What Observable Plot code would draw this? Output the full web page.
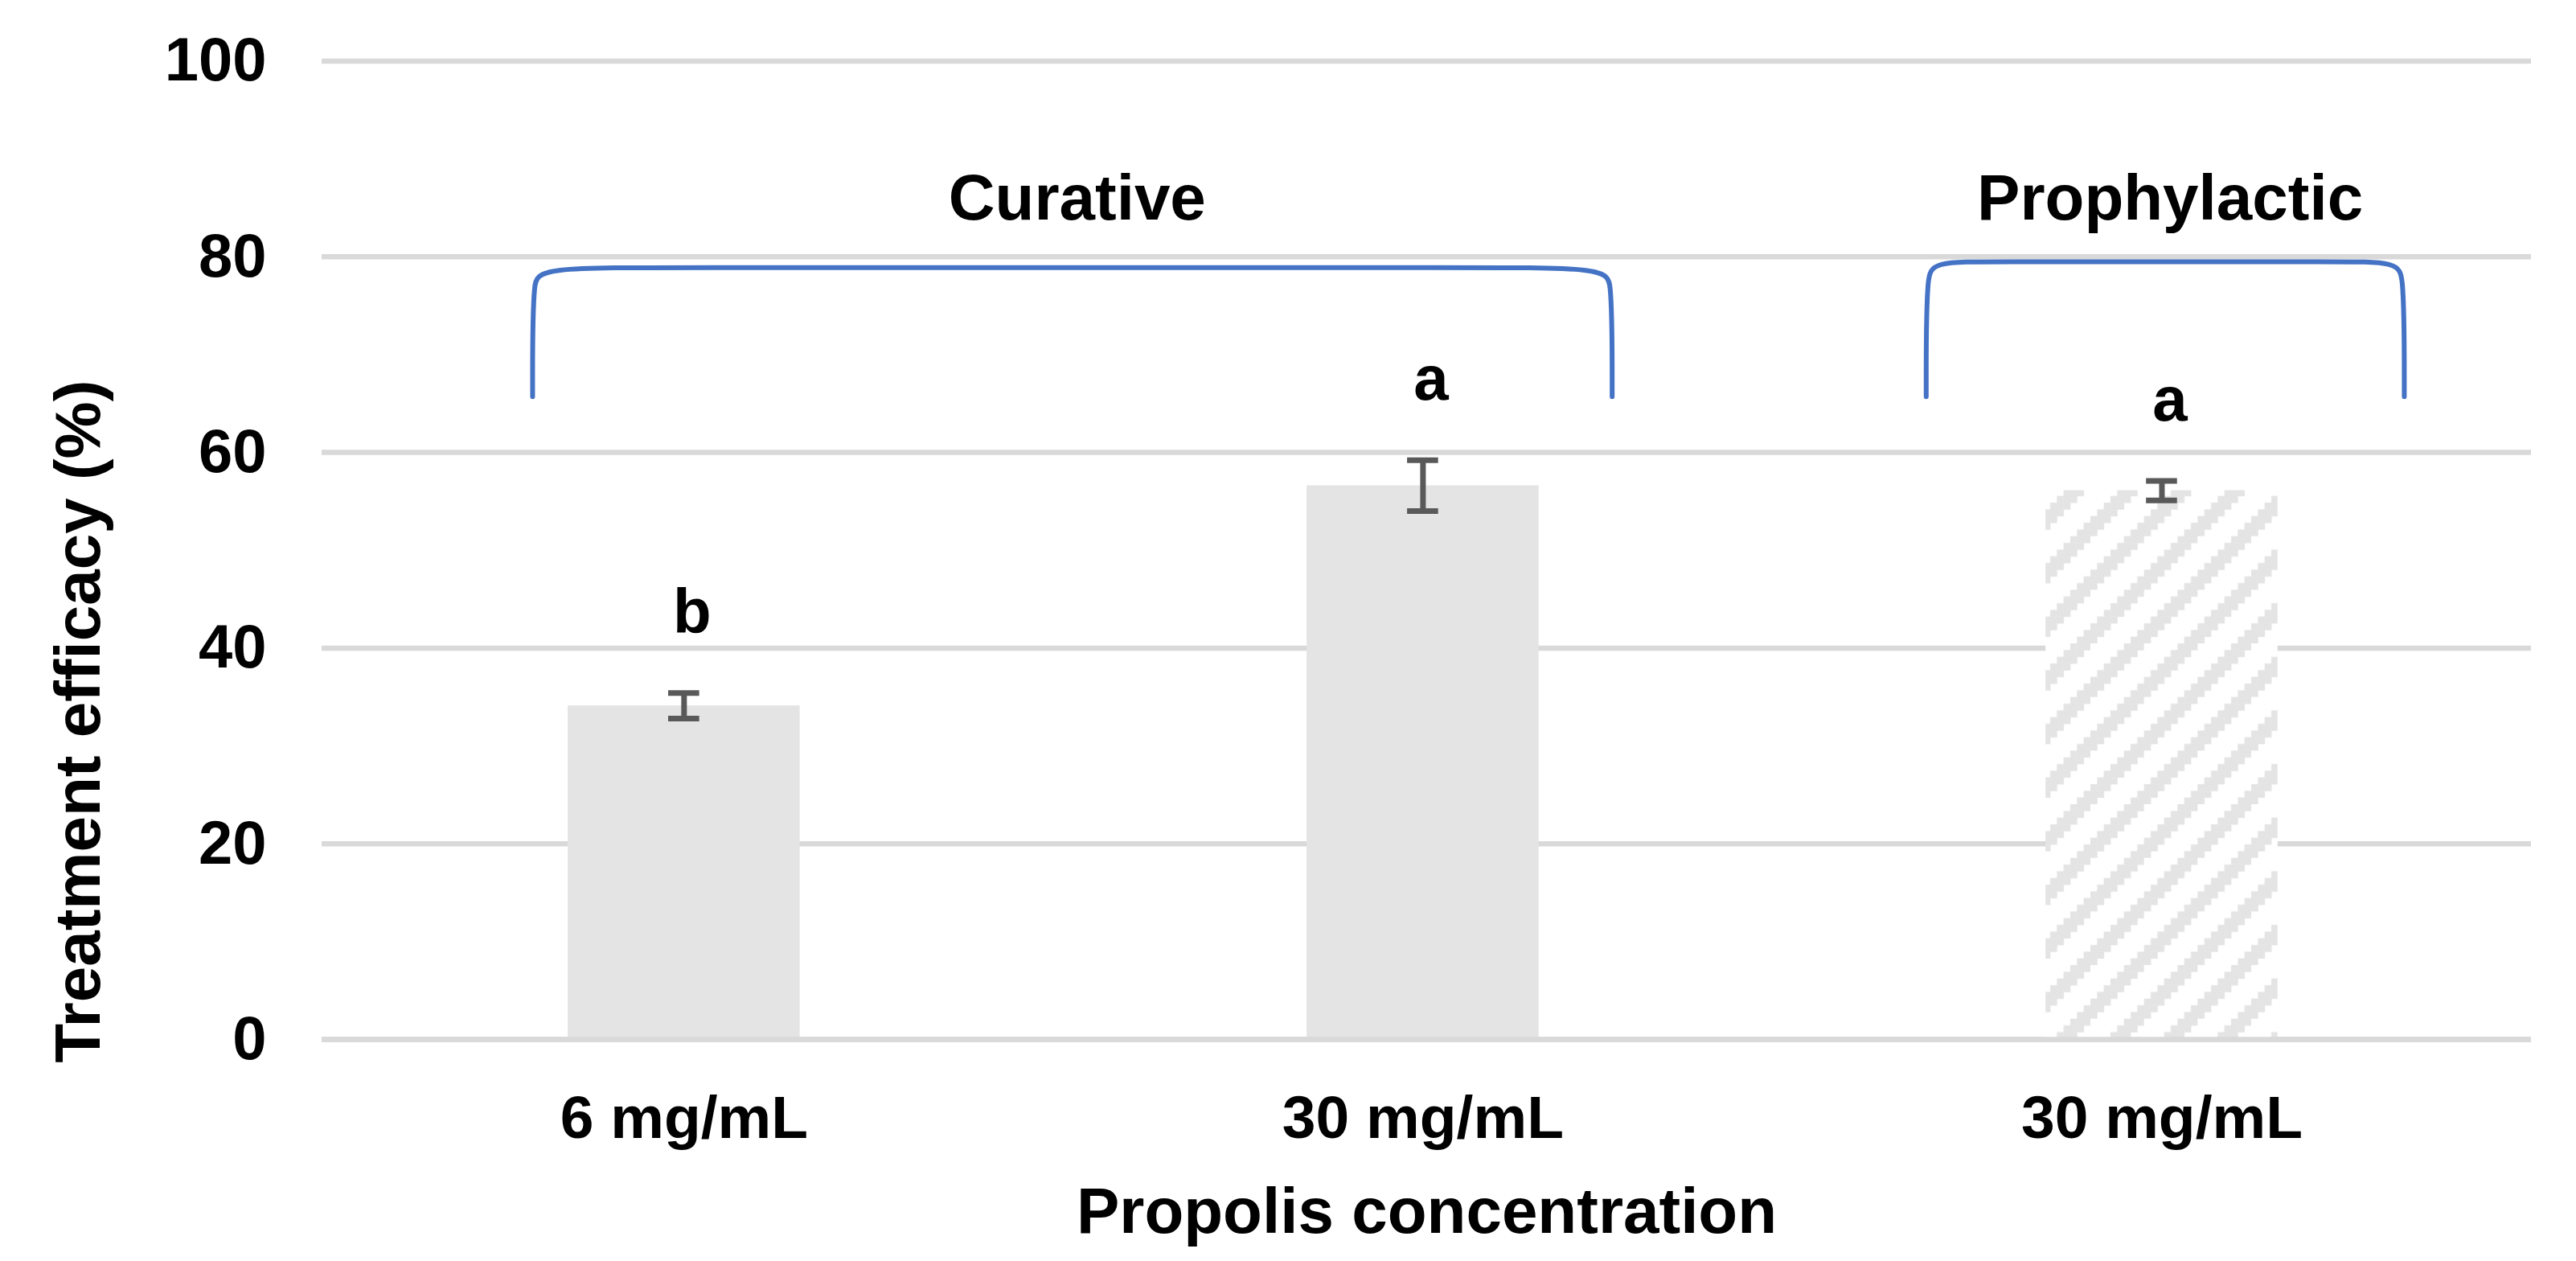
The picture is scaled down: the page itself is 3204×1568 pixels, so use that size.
<!DOCTYPE html>
<html><head><meta charset="utf-8">
<script src="https://cdn.jsdelivr.net/npm/d3@7"></script>
<script src="https://cdn.jsdelivr.net/npm/@observablehq/plot@0.6"></script>
<style>html,body{margin:0;padding:0;background:#fff;overflow:hidden}svg{display:block}</style>
</head><body><div id="chart"></div>
<script>
// ---- data ----
const categories = ["6 mg/mL", "30 mg/mL", "30 mg/mL"];
const treatments = ["Curative", "Curative", "Prophylactic"];
const efficacy = [34.1, 56.6, 56.1];
const errors = [1.3, 2.6, 1.0];
const letters = ["b", "a", "a"];
const yTicks = [0, 20, 40, 60, 80, 100];
const groups = ["Curative", "Prophylactic"];
const groupStart = [-0.205, 1.681];
const groupEnd = [1.256, 2.328];
const groupTop = [78.9, 79.5];
const groupBottom = [65.7, 65.7];
const xTitle = "Propolis concentration";
const yTitle = "Treatment efficacy (%)";

// ---- derived tables ----
const bars = categories.map((c, i) => ({i, label: c, treatment: treatments[i], value: efficacy[i], err: errors[i], letter: letters[i]}));
const HALF = 0.157, CAP = 0.021, CORNER = 0.016;
const brackets = groups.flatMap((g, k) => {
  const x0 = groupStart[k], x1 = groupEnd[k], t = groupTop[k], b = groupBottom[k];
  return [[x0, b], [x0, t], [x0 + CORNER, t], [x1 - CORNER, t], [x1, t], [x1, b]].map(([x, y]) => ({g, x, y}));
});
const labelLevel = Math.max(...groupTop);
const groupLabels = groups.map((g, k) => ({g, x: (groupStart[k] + groupEnd[k]) / 2, y: labelLevel}));

const GRID = "#D9D9D9", BAR = "#E4E4E4", ERR = "#595959", BLUE = "#4472C4";

const svg = Plot.plot({
  width: 3204,
  height: 1568,
  marginLeft: 400,
  marginRight: 56,
  marginTop: 75.5,
  marginBottom: 276,
  style: {fontFamily: "'Liberation Sans', Arial, sans-serif", fontWeight: "bold", fontSize: "76px", color: "#000", background: "#fff"},
  x: {domain: [-0.49, 2.5]},
  y: {domain: [0, 100]},
  marks: [
    Plot.gridY(yTicks, {stroke: GRID, strokeOpacity: 1, strokeWidth: 6.5}),
    Plot.rectY(bars.filter(d => d.treatment === "Curative"), {x1: d => d.i - HALF, x2: d => d.i + HALF, y1: 0, y2: "value", fill: BAR}),
    Plot.rectY(bars.filter(d => d.treatment === "Prophylactic"), {x1: d => d.i - HALF, x2: d => d.i + HALF, y1: 0, y2: "value", fill: "url(#hatch)"}),
    Plot.ruleY([0], {stroke: GRID, strokeWidth: 6.5}),
    Plot.ruleX(bars, {x: "i", y1: d => d.value - d.err, y2: d => d.value + d.err, stroke: ERR, strokeWidth: 7}),
    Plot.ruleY(bars, {y: d => d.value + d.err, x1: d => d.i - CAP, x2: d => d.i + CAP, stroke: ERR, strokeWidth: 7}),
    Plot.ruleY(bars, {y: d => d.value - d.err, x1: d => d.i - CAP, x2: d => d.i + CAP, stroke: ERR, strokeWidth: 7}),
    Plot.text(bars, {x: "i", y: d => d.value + d.err, text: "letter", dx: 10, dy: -75, lineAnchor: "bottom", fontSize: 78, fill: "#000"}),
    Plot.line(brackets, {x: "x", y: "y", z: "g", curve: "basis", stroke: BLUE, strokeWidth: 6}),
    Plot.text(groupLabels, {x: "x", y: "y", text: "g", dx: 6, dy: -52, lineAnchor: "bottom", fontSize: 80, fill: "#000"}),
    Plot.axisY({ticks: yTicks, tickSize: 0, tickPadding: 69, label: null, fontSize: 76}),
    Plot.axisX({ticks: [0, 1, 2], tickFormat: i => categories[i], tickSize: 0, tickPadding: 69, label: null, fontSize: 75}),
    Plot.text([xTitle], {text: d => d, frameAnchor: "bottom", textAnchor: "middle", dy: 240, lineAnchor: "bottom", fontSize: 80, fill: "#000"}),
    Plot.text([yTitle], {text: d => d, frameAnchor: "left", textAnchor: "middle", rotate: -90, dx: -277, dy: 213, lineAnchor: "bottom", fontSize: 80, fill: "#000"})
  ]
});

// hatch pattern (wide upward diagonal, pixel-stepped)
const ns = "http://www.w3.org/2000/svg";
const defs = document.createElementNS(ns, "defs");
const pat = document.createElementNS(ns, "pattern");
const cell = 25 / 3, n = 8;
pat.setAttribute("id", "hatch");
pat.setAttribute("patternUnits", "userSpaceOnUse");
pat.setAttribute("width", cell * n);
pat.setAttribute("height", cell * n);
const bg = document.createElementNS(ns, "rect");
bg.setAttribute("width", cell * n); bg.setAttribute("height", cell * n); bg.setAttribute("fill", "#fff");
pat.appendChild(bg);
for (let i = 0; i < n; i++) {
  for (let t = 0; t < 3; t++) {
    const r = (((5 - i + t) % n) + n) % n;
    const rc = document.createElementNS(ns, "rect");
    rc.setAttribute("x", i * cell);
    rc.setAttribute("y", r * cell);
    rc.setAttribute("width", cell + 0.4);
    rc.setAttribute("height", cell + 0.4);
    rc.setAttribute("fill", BAR);
    pat.appendChild(rc);
  }
}
defs.appendChild(pat);
svg.insertBefore(defs, svg.firstChild);
document.getElementById("chart").appendChild(svg);
</script>
</body></html>
